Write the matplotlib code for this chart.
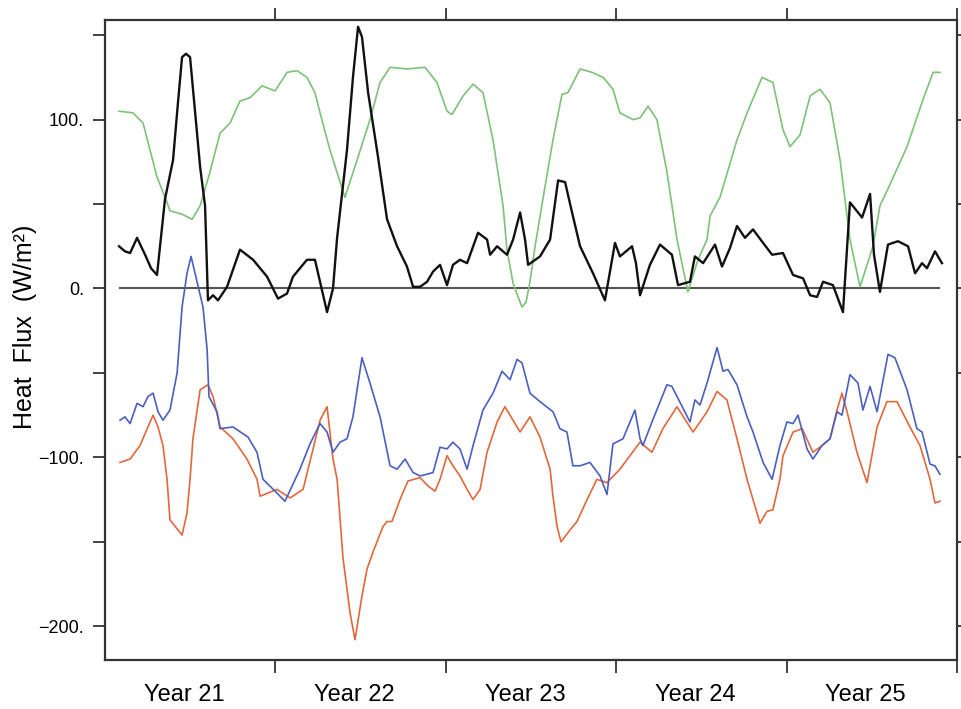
import matplotlib
matplotlib.use("Agg")
import matplotlib.pyplot as plt

plt.rcParams["font.family"] = ["Liberation Sans", "DejaVu Sans"]

# time in years since start of Year 21, flux in W/m^2
green_t = [0.082, 0.164, 0.223, 0.305, 0.364, 0.381, 0.452, 0.511, 0.558, 0.616,
           0.675, 0.734, 0.792, 0.851, 0.921, 0.998, 1.068, 1.127, 1.185, 1.232,
           1.262, 1.320, 1.408, 1.479, 1.555, 1.614, 1.673, 1.772, 1.878, 1.948,
           2.007, 2.036, 2.101, 2.160, 2.218, 2.277, 2.336, 2.359, 2.395, 2.447,
           2.471, 2.494, 2.524, 2.570, 2.629, 2.682, 2.717, 2.788, 2.858, 2.923,
           2.981, 3.022, 3.099, 3.140, 3.187, 3.239, 3.298, 3.357, 3.421, 3.480,
           3.533, 3.551, 3.609, 3.709, 3.768, 3.856, 3.920, 3.979, 4.020, 4.079,
           4.138, 4.196, 4.255, 4.314, 4.372, 4.431, 4.507, 4.548, 4.595, 4.707,
           4.801, 4.860, 4.901]
green_v = [105, 104, 98, 66, 51, 46, 44, 41, 49, 69,
           92, 98, 111, 113, 120, 117, 128, 129, 125, 116,
           104, 82, 54, 76, 100, 122, 131, 130, 131, 122,
           105, 103, 114, 121, 116, 88, 49, 23, 3, -11,
           -8, 4, 25, 53, 88, 115, 116, 130, 128, 125,
           118, 104, 100, 101, 108, 100, 69, 29, -2, 17,
           29, 43, 54, 88, 104, 125, 122, 94, 84, 91,
           114, 118, 110, 76, 29, 1, 25, 49, 59, 84,
           112, 128, 128]

black_t = [0.082, 0.117, 0.147, 0.188, 0.235, 0.270, 0.305, 0.352, 0.399, 0.428,
           0.452, 0.475, 0.499, 0.558, 0.587, 0.604, 0.634, 0.663, 0.716, 0.792,
           0.869, 0.951, 1.015, 1.068, 1.103, 1.185, 1.232, 1.303, 1.338, 1.362,
           1.420, 1.455, 1.485, 1.508, 1.544, 1.602, 1.655, 1.714, 1.772, 1.808,
           1.849, 1.890, 1.925, 1.966, 2.007, 2.042, 2.083, 2.125, 2.189, 2.242,
           2.260, 2.301, 2.359, 2.395, 2.436, 2.465, 2.483, 2.553, 2.612, 2.659,
           2.700, 2.741, 2.788, 2.864, 2.934, 2.993, 3.022, 3.093, 3.116, 3.140,
           3.198, 3.257, 3.327, 3.363, 3.433, 3.462, 3.510, 3.580, 3.621, 3.668,
           3.709, 3.756, 3.803, 3.862, 3.915, 3.979, 4.038, 4.097, 4.138, 4.179,
           4.214, 4.272, 4.331, 4.372, 4.443, 4.490, 4.513, 4.548, 4.595, 4.654,
           4.713, 4.754, 4.795, 4.824, 4.871, 4.912]
black_v = [25, 22, 21, 30, 20, 12, 8, 53, 76, 110,
           137, 139, 137, 72, 49, -7, -4, -7, 1, 23,
           17, 7, -6, -3, 7, 17, 17, -14, 0, 30,
           82, 125, 155, 149, 116, 78, 41, 25, 13, 1,
           1, 4, 10, 14, 2, 14, 17, 15, 33, 29,
           20, 25, 20, 29, 45, 29, 14, 19, 29, 64,
           63, 45, 25, 9, -7, 27, 19, 25, 15, -4,
           14, 26, 20, 2, 4, 19, 15, 26, 13, 24,
           37, 30, 35, 27, 20, 21, 8, 6, -4, -5,
           4, 2, -14, 51, 42, 56, 20, -2, 26, 28,
           25, 9, 15, 12, 22, 15]

blue_t = [0.088, 0.117, 0.147, 0.188, 0.223, 0.252, 0.282, 0.311, 0.340, 0.381,
          0.423, 0.452, 0.481, 0.505, 0.540, 0.575, 0.599, 0.610, 0.657, 0.675,
          0.751, 0.839, 0.892, 0.927, 0.998, 1.056, 1.144, 1.203, 1.262, 1.303,
          1.338, 1.379, 1.420, 1.455, 1.508, 1.555, 1.614, 1.673, 1.714, 1.761,
          1.808, 1.849, 1.925, 1.966, 2.007, 2.042, 2.083, 2.125, 2.160, 2.218,
          2.277, 2.330, 2.377, 2.418, 2.447, 2.494, 2.553, 2.629, 2.670, 2.711,
          2.746, 2.788, 2.846, 2.905, 2.946, 2.981, 3.040, 3.110, 3.140, 3.157,
          3.210, 3.298, 3.327, 3.433, 3.462, 3.492, 3.533, 3.592, 3.627, 3.656,
          3.709, 3.768, 3.803, 3.862, 3.915, 3.961, 4.002, 4.038, 4.067, 4.120,
          4.155, 4.208, 4.255, 4.296, 4.325, 4.372, 4.419, 4.448, 4.490, 4.531,
          4.595, 4.636, 4.707, 4.765, 4.795, 4.842, 4.871, 4.900]
blue_v = [-78, -76, -80, -68, -70, -64, -62, -73, -78, -72,
          -50, -11, 9, 19, 4, -11, -36, -64, -73, -83,
          -82, -88, -97, -113, -120, -126, -107, -92, -80, -85,
          -97, -91, -89, -76, -41, -56, -76, -105, -107, -101,
          -109, -111, -109, -94, -95, -91, -95, -107, -93, -72,
          -62, -49, -54, -42, -44, -62, -67, -73, -83, -85,
          -105, -105, -103, -111, -122, -92, -89, -72, -89, -93,
          -79, -57, -58, -79, -66, -69, -56, -35, -49, -48,
          -57, -76, -85, -103, -113, -93, -79, -80, -75, -95,
          -101, -93, -89, -73, -75, -51, -56, -72, -58, -73,
          -39, -41, -60, -83, -85, -104, -105, -110]

orange_t = [0.088, 0.147, 0.205, 0.252, 0.282, 0.311, 0.340, 0.364, 0.381, 0.452,
            0.481, 0.499, 0.516, 0.558, 0.604, 0.634, 0.675, 0.751, 0.833, 0.892,
            0.910, 1.009, 1.086, 1.162, 1.221, 1.262, 1.303, 1.338, 1.362, 1.397,
            1.438, 1.467, 1.508, 1.538, 1.573, 1.631, 1.655, 1.684, 1.731, 1.778,
            1.849, 1.896, 1.937, 1.966, 2.007, 2.042, 2.083, 2.125, 2.160, 2.201,
            2.242, 2.301, 2.347, 2.436, 2.494, 2.553, 2.612, 2.629, 2.653, 2.676,
            2.729, 2.770, 2.829, 2.887, 2.946, 3.022, 3.140, 3.210, 3.274, 3.357,
            3.451, 3.533, 3.592, 3.650, 3.709, 3.768, 3.844, 3.885, 3.920, 3.961,
            3.979, 4.038, 4.091, 4.155, 4.208, 4.255, 4.296, 4.325, 4.355, 4.413,
            4.472, 4.531, 4.589, 4.648, 4.724, 4.783, 4.842, 4.871, 4.900]
orange_v = [-103, -101, -93, -82, -75, -82, -93, -113, -137, -146,
            -133, -113, -89, -60, -57, -64, -82, -89, -101, -113,
            -123, -119, -124, -119, -95, -78, -70, -101, -113, -160,
            -192, -208, -182, -166, -156, -141, -138, -138, -125, -114,
            -112, -117, -120, -113, -99, -105, -111, -119, -125, -119,
            -97, -79, -70, -85, -76, -88, -107, -123, -141, -150,
            -143, -138, -125, -113, -115, -107, -91, -97, -83, -70,
            -85, -73, -61, -66, -89, -113, -139, -132, -131, -113,
            -99, -85, -83, -97, -93, -89, -72, -62, -73, -97,
            -115, -82, -67, -67, -82, -93, -113, -127, -126]

year_labels = ["Year 21", "Year 22", "Year 23", "Year 24", "Year 25"]
y_ticks = [-200, -150, -100, -50, 0, 50, 100, 150]


def tick_text(v):
    if v % 100 != 0:
        return ""
    return f"{v}.".replace("-", "\u2212")


fig = plt.figure(figsize=(9.61, 7.09), dpi=100)
ax = fig.add_axes([0.1093, 0.0691, 0.8865, 0.9027])

ax.hlines(0, green_t[0], green_t[-1], color="#555555", lw=1.5, zorder=1)
ax.plot(green_t, green_v, color="#7cc277", lw=1.2, zorder=2)
ax.plot(orange_t, orange_v, color="#e2683c", lw=1.2, zorder=3)
ax.plot(blue_t, blue_v, color="#4a5fc1", lw=1.2, zorder=4)
ax.plot(black_t, black_v, color="#111111", lw=1.7, zorder=5)

ax.set_xlim(0, 5)
ax.set_ylim(-220, 159)

ax.set_xticks([1, 2, 3, 4, 5])
ax.set_xticklabels([])
# year names sit a little left of mid-year, as in the original
ax.set_xticks([i + 0.465 for i in range(len(year_labels))], minor=True)
ax.set_xticklabels(year_labels, minor=True, fontsize=17)
ax.tick_params(axis="x", which="major", direction="out", length=9, width=1.3,
               top=True, bottom=True, color="#333333")
ax.tick_params(axis="x", which="minor", length=0, pad=17)

ax.set_yticks(y_ticks)
ax.set_yticklabels([tick_text(v) for v in y_ticks], fontsize=13)
ax.tick_params(axis="y", direction="out", length=9, width=1.3, left=True,
               right=True, color="#333333", pad=6)

for sp in ax.spines.values():
    sp.set_linewidth(1.6)
    sp.set_color("#333333")

ax.set_ylabel("Heat  Flux  (W/m\u00b2)", fontsize=18)
ax.yaxis.set_label_coords(-0.080, 0.52)

fig.savefig("out.png", dpi=100)
